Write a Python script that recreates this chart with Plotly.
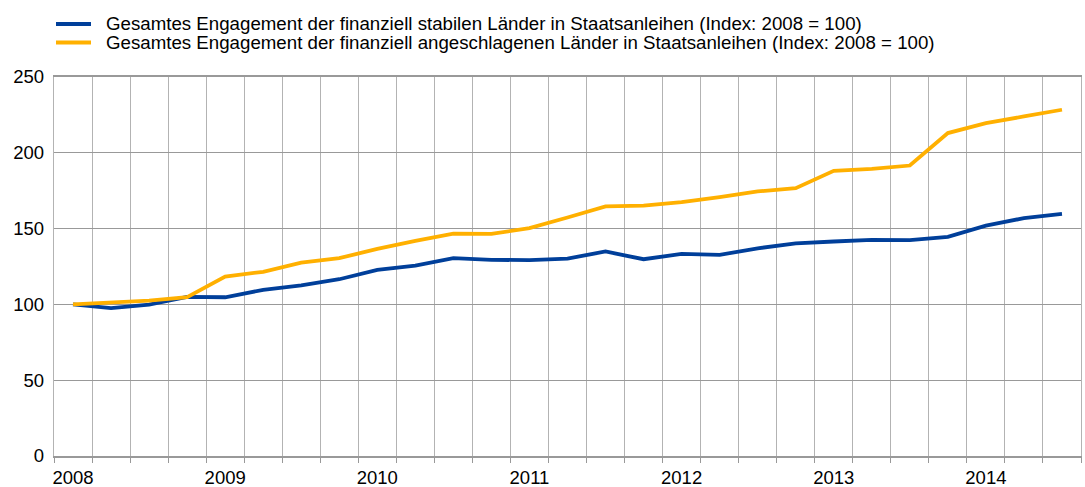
import plotly.graph_objects as go

# ---- data ----
years = ["2008", "2009", "2010", "2011", "2012", "2013", "2014"]
quarters = [f"{y}-Q{q}" for y in years for q in (1, 2, 3, 4)][:27]

stable = [100, 97.5, 99.8, 105, 104.7, 109.6, 112.5, 116.6, 122.8, 125.6,
          130.5, 129.4, 129.2, 130.2, 134.9, 129.8, 133.3, 132.7, 137.0, 140.2,
          141.5, 142.6, 142.4, 144.6, 152.0, 156.9, 159.7]
distressed = [100, 101.3, 102.5, 104.8, 118.4, 121.5, 127.5, 130.5, 136.6, 141.9,
              146.6, 146.5, 150.3, 157.3, 164.6, 165.2, 167.4, 170.7, 174.5, 176.7,
              188.1, 189.4, 191.6, 213.0, 219.6, 224.0, 228.4]

name_stable = "Gesamtes Engagement der finanziell stabilen Länder in Staatsanleihen (Index: 2008 = 100)"
name_distr = "Gesamtes Engagement der finanziell angeschlagenen Länder in Staatsanleihen (Index: 2008 = 100)"

y_ticks = [0, 50, 100, 150, 200, 250]

# ---- styling ----
BLUE = "#003f9a"
ORANGE = "#ffb000"
FONT = "Liberation Sans, Arial, sans-serif"

xpos = list(range(len(quarters)))
year_pos = [quarters.index(f"{y}-Q1") for y in years]
boundaries = [i - 0.5 for i in range(len(quarters) + 1)]

fig = go.Figure()
fig.add_trace(go.Scatter(x=xpos, y=stable, mode="lines", name=name_stable,
                         line=dict(color=BLUE, width=3.8), showlegend=False))
fig.add_trace(go.Scatter(x=xpos, y=distressed, mode="lines", name=name_distr,
                         line=dict(color=ORANGE, width=3.8), showlegend=False))

W, H = 1085, 487
L, R, T, B = 54, 4, 77, 31
pw, ph = W - L - R, H - T - B

def px_x(p):
    return (p - L) / pw

def px_y(p):
    return (H - B - p) / ph

# manual legend
for name, col, yy in [(name_stable, BLUE, 24), (name_distr, ORANGE, 42.5)]:
    fig.add_shape(type="line", xref="paper", yref="paper",
                  x0=px_x(56), x1=px_x(91), y0=px_y(yy), y1=px_y(yy),
                  line=dict(color=col, width=4))
    fig.add_annotation(xref="paper", yref="paper", x=px_x(104), y=px_y(yy),
                       text=name, showarrow=False, xanchor="left", yanchor="middle",
                       font=dict(size=18.7, color="#000000", family=FONT))

fig.update_layout(
    width=W, height=H,
    margin=dict(l=L, r=R, t=T, b=B, pad=0, autoexpand=False),
    paper_bgcolor="white", plot_bgcolor="white",
    font=dict(family=FONT, size=18.5, color="#000000"),
    showlegend=False,
)
fig.update_xaxes(
    range=[-0.5, len(quarters) - 0.5],
    tickmode="array", tickvals=year_pos, ticktext=years,
    showgrid=False, ticks="", ticklabelstandoff=4,
    tickfont=dict(size=18.5),
    minor=dict(tickmode="array", tickvals=boundaries, showgrid=True,
               gridcolor="#b3b3b3", gridwidth=1.3, ticks="outside",
               ticklen=5, tickcolor="#999999"),
    showline=True, linecolor="#999999", linewidth=1.5, mirror=True,
    zeroline=False,
)
fig.update_yaxes(
    range=[0, 250], tickmode="array", tickvals=y_ticks,
    showgrid=True, gridcolor="#999999", gridwidth=1.3,
    ticks="", ticklabelstandoff=5, tickfont=dict(size=18.5),
    showline=True, linecolor="#b3b3b3", linewidth=1.3, mirror=True,
    zeroline=False,
)

fig.write_html("out.html", config={"displayModeBar": False})

# remove the default body margin so the figure fills the window exactly
with open("out.html", "r", encoding="utf-8") as f:
    html = f.read()
html = html.replace("<head>", "<head><style>html,body{margin:0;padding:0;overflow:hidden;}</style>", 1)
with open("out.html", "w", encoding="utf-8") as f:
    f.write(html)
